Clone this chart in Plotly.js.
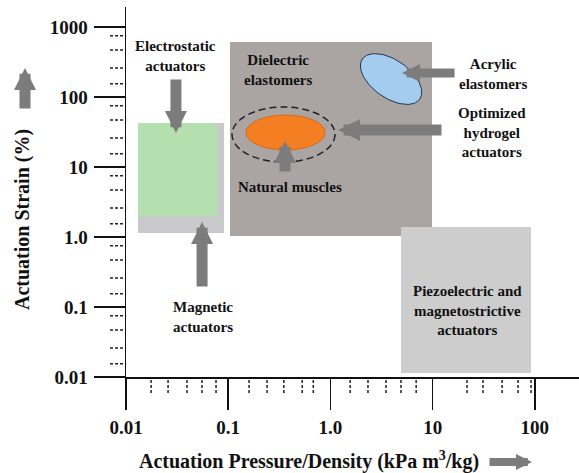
<!DOCTYPE html>
<html>
<head>
<meta charset="utf-8">
<script src="https://cdn.plot.ly/plotly-3.0.1.min.js"></script>
<style>html,body{margin:0;padding:0;background:#fff}#chart{width:579px;height:473px}</style>
</head>
<body>
<div id="chart"></div>
<script>
// ---- data ----
const xTickVals = [0.01, 0.1, 1, 10, 100];
const xTickText = ["0.01", "0.1", "1.0", "10", "100"];
const yTickVals = [0.01, 0.1, 1, 10, 100, 1000];
const yTickText = ["0.01", "0.1", "1.0", "10", "100", "1000"];
const xMinor = [0.0176,0.0258,0.0395,0.0554,0.076, 0.16,0.24,0.35,0.53,0.68, 1.56,2.33,3.5,4.9,6.9, 21.7,31.1,47.8,68.5,91.8];
const yMinorMult = [1.55, 2.6, 4.7, 7.5];
const yMinorDecades = [0.01, 0.1, 1, 10, 100];

// regions: [xMin, xMax, yMin, yMax] in data units
const magneticRegion = [0.0131, 0.091, 1.14, 42.5];
const electrostaticRegion = [0.0131, 0.0777, 2.0, 42.5];
const dielectricRegion = [0.104, 9.87, 1.03, 611];
const piezoRegion = [4.91, 91.8, 0.0114, 1.39];
const naturalMuscle = [0.1494, 0.886, 17.5, 55.3];
const hydrogelRing = [0.1089, 1.109, 11.8, 71.9];
const acrylicCenter = [3.92, 180.7];

const labels = [
  {text: "Electrostatic<br>actuators", x: 0.0308, y: 385},
  {text: "Dielectric<br>elastomers", x: 0.307, y: 243},
  {text: "Acrylic<br>elastomers", x: 39.0, y: 213},
  {text: "Optimized<br>hydrogel<br>actuators", x: 38.1, y: 31.6},
  {text: "Natural muscles", x: 0.403, y: 5.18},
  {text: "Magnetic<br>actuators", x: 0.0566, y: 0.072},
  {text: "Piezoelectric and<br>magnetostrictive<br>actuators", x: 21.7, y: 0.0877}
];
// arrows: tip in data units, tail offset in px
const arrows = [
  {x: 0.0308, y: 30.6, ax: 0, ay: -55, w: 11},
  {x: 0.0555, y: 1.64, ax: 0, ay: 66, w: 11},
  {x: 0.360, y: 23.5, ax: 0, ay: 32, w: 11},
  {x: 5.02, y: 220, ax: 54, ay: 0, w: 9},
  {x: 1.186, y: 33.8, ax: 105, ay: 0, w: 11}
];

// ---- layout geometry ----
const W = 579, H = 473;
const M = {l: 126, r: 0, t: 7, b: 96};
const xRange = [-2, 2.432], yRange = [-2, 3.286];
const plotW = W - M.l - M.r, plotH = H - M.t - M.b;
const pxX = plotW / (xRange[1] - xRange[0]);
const pxY = plotH / (yRange[1] - yRange[0]);

const SERIF = "'Liberation Serif', 'Times New Roman', serif";

function ellipse(c, a, b, deg) {
  const th = deg * Math.PI / 180, xs = [], ys = [];
  const lx = Math.log10(c[0]), ly = Math.log10(c[1]);
  for (let i = 0; i <= 90; i++) {
    const t = 2 * Math.PI * i / 90;
    const dx = a * Math.cos(t) * Math.cos(th) - b * Math.sin(t) * Math.sin(th);
    const dy = a * Math.cos(t) * Math.sin(th) + b * Math.sin(t) * Math.cos(th);
    xs.push(Math.pow(10, lx + dx / pxX));
    ys.push(Math.pow(10, ly + dy / pxY));
  }
  return {xs, ys};
}
const ac = ellipse(acrylicCenter, 35, 19, -35);

const traces = [{
  type: "scatter", mode: "lines", x: ac.xs, y: ac.ys, fill: "toself",
  fillcolor: "#a3ccef", line: {color: "#22364f", width: 1},
  hoverinfo: "skip", showlegend: false
}];

function rect(r, color) {
  return {type: "rect", xref: "x", yref: "y", x0: r[0], x1: r[1], y0: r[2], y1: r[3],
    fillcolor: color, line: {width: 0}, layer: "below"};
}
const shapes = [
  rect(magneticRegion, "#c9c9cb"),
  rect(electrostaticRegion, "#b4dfae"),
  rect(dielectricRegion, "#aaa5a3"),
  rect(piezoRegion, "#cdcdcd"),
  {type: "circle", xref: "x", yref: "y", x0: naturalMuscle[0], x1: naturalMuscle[1], y0: naturalMuscle[2], y1: naturalMuscle[3],
    fillcolor: "#f47f22", line: {color: "#d9691a", width: 1}, layer: "below"},
  {type: "circle", xref: "x", yref: "y", x0: hydrogelRing[0], x1: hydrogelRing[1], y0: hydrogelRing[2], y1: hydrogelRing[3],
    fillcolor: "rgba(0,0,0,0)", line: {color: "#222", width: 1.5, dash: "7px,4px"}, layer: "below"}
];
// minor tick dashes
yMinorDecades.forEach(d => yMinorMult.forEach(m => {
  shapes.push({type: "line", xref: "paper", yref: "y", x0: -16 / plotW, x1: -3 / plotW, y0: d * m, y1: d * m,
    line: {color: "#222", width: 1.5, dash: "3px,2px"}});
}));
xMinor.forEach(v => {
  shapes.push({type: "line", xref: "x", yref: "paper", x0: v, x1: v, y0: -3 / plotH, y1: -16 / plotH,
    line: {color: "#222", width: 1.5, dash: "3px,2px"}});
});

const annFont = {family: SERIF, size: 15, color: "#111", weight: "bold"};
const annotations = [];
labels.forEach(l => annotations.push({
  text: l.text, x: Math.log10(l.x), y: Math.log10(l.y), xref: "x", yref: "y",
  xanchor: "center", yanchor: "middle",
  showarrow: false, font: annFont, align: "center"
}));
arrows.forEach(a => annotations.push({
  text: "", x: Math.log10(a.x), y: Math.log10(a.y), xref: "x", yref: "y",
  showarrow: true, ax: a.ax, ay: a.ay, arrowhead: 2, arrowwidth: a.w, arrowsize: 0.4,
  arrowcolor: "#7c7c7c", standoff: 0
}));
// axis titles with their arrows
annotations.push({text: "Actuation Strain (%)", xref: "paper", yref: "paper",
  x: (22 - M.l) / plotW, y: (plotH + M.t - 220) / plotH, textangle: -90, showarrow: false,
  xanchor: "center", yanchor: "middle",
  font: {family: SERIF, size: 20, color: "#111", weight: "bold"}});
annotations.push({text: "Actuation Pressure/Density (kPa m<sup>3</sup>/kg)", xref: "paper", yref: "paper",
  x: (309 - M.l) / plotW, y: (plotH + M.t - 461) / plotH, showarrow: false,
  xanchor: "center", yanchor: "middle",
  font: {family: SERIF, size: 20, color: "#111", weight: "bold"}});
annotations.push({text: "", xref: "paper", yref: "paper", x: (25 - M.l) / plotW, y: (plotH + M.t - 68) / plotH,
  showarrow: true, ax: 0, ay: 42, arrowhead: 2, arrowwidth: 11, arrowsize: 0.4, arrowcolor: "#7c7c7c", standoff: 0});
annotations.push({text: "", xref: "paper", yref: "paper", x: (532 - M.l) / plotW, y: (plotH + M.t - 462) / plotH,
  showarrow: true, ax: -44, ay: 0, arrowhead: 2, arrowwidth: 8, arrowsize: 0.4, arrowcolor: "#7c7c7c", standoff: 0});

const axisCommon = {
  type: "log", showline: true, linecolor: "#111", linewidth: 1.5, ticks: "outside",
  ticklen: 31, tickwidth: 1.5, tickcolor: "#111", showgrid: false, zeroline: false,
  tickfont: {family: SERIF, size: 19, color: "#111", weight: "bold"}, fixedrange: true
};
const layout = {
  width: W, height: H, margin: M, paper_bgcolor: "#fff", plot_bgcolor: "#fff",
  showlegend: false,
  xaxis: Object.assign({}, axisCommon, {range: xRange, tickvals: xTickVals, ticktext: xTickText, ticklabelstandoff: 2}),
  yaxis: Object.assign({}, axisCommon, {range: yRange, tickvals: yTickVals, ticktext: yTickText, ticklabelstandoff: 2}),
  shapes: shapes, annotations: annotations
};
Plotly.newPlot("chart", traces, layout, {displayModeBar: false, staticPlot: true});
</script>
</body>
</html>
